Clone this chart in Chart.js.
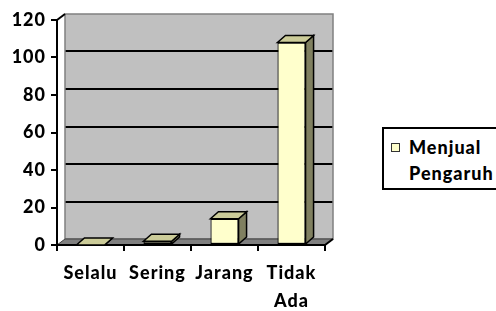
<!DOCTYPE html>
<html><head><meta charset="utf-8">
<script src="https://cdn.jsdelivr.net/npm/chart.js@4/dist/chart.umd.min.js"></script>
<style>
html,body{margin:0;padding:0;background:#fff;overflow:hidden}
#wrap{position:relative;width:496px;height:311px}
#legend{position:absolute;left:382px;top:127px;width:130px;height:59px;border:2px solid #000;background:#fff;font-family:Lato;font-weight:900;font-size:18px;letter-spacing:1px;color:#000}
#legend .mk{position:absolute;left:7px;top:14px;width:7px;height:7px;border:1px solid #333;background:#ffffcc}
#legend .ln{position:absolute;left:25px;height:22px;line-height:22px;white-space:nowrap}
</style></head>
<body>
<div id="wrap">
<canvas id="c" width="496" height="311"></canvas>
<div id="legend"></div>
</div>
<script>
const categories = ['Selalu', 'Sering', 'Jarang', ['Tidak', 'Ada']];
const seriesLabel = ['Menjual', 'Pengaruh'];
const values = [0, 2, 14, 108];
const yTicks = [0, 20, 40, 60, 80, 100, 120];

const DX = 8, DY = 6, BDX = 8, BDY = 7;
const LS = '1px';

// legend
const lg = document.getElementById('legend');
const mk = document.createElement('div'); mk.className = 'mk'; lg.appendChild(mk);
seriesLabel.forEach((t, i) => {
  const s = document.createElement('div'); s.className = 'ln';
  s.style.top = (7 + i * 26) + 'px'; s.textContent = t; lg.appendChild(s);
});

function poly(ctx, pts) {
  ctx.beginPath(); ctx.moveTo(pts[0][0], pts[0][1]);
  for (let i = 1; i < pts.length; i++) ctx.lineTo(pts[i][0], pts[i][1]);
  ctx.closePath(); ctx.fill(); ctx.stroke();
}

const threeD = {
  id: 'threeD',
  beforeLayout(chart) { chart.ctx.letterSpacing = LS; },
  beforeDraw(chart) {
    const ctx = chart.ctx; ctx.letterSpacing = LS;
    const {left, right, top, bottom} = chart.chartArea;
    const ys = chart.scales.y;
    ctx.save();
    ctx.fillStyle = '#c0c0c0';
    ctx.fillRect(left + DX, top - DY, right - left, bottom - top);
    ctx.strokeStyle = '#000'; ctx.lineWidth = 2;
    yTicks.forEach(v => {
      if (v > yTicks[0] && v < yTicks[yTicks.length - 1]) {
        const y = Math.round(ys.getPixelForValue(v) - DY);
        ctx.beginPath(); ctx.moveTo(left + DX, y); ctx.lineTo(right + DX, y); ctx.stroke();
      }
    });
    ctx.strokeStyle = '#808080'; ctx.lineWidth = 1.5;
    ctx.strokeRect(left + DX, top - DY, right - left, bottom - top);
    // floor
    ctx.fillStyle = '#808080'; ctx.strokeStyle = '#404040'; ctx.lineWidth = 1;
    poly(ctx, [[left, bottom], [left + DX, bottom - DY], [right + DX, bottom - DY], [right, bottom]]);
    // diagonals
    ctx.strokeStyle = '#000'; ctx.lineWidth = 2;
    ctx.beginPath(); ctx.moveTo(left, top); ctx.lineTo(left + DX, top - DY); ctx.stroke();
    ctx.beginPath(); ctx.moveTo(right, bottom); ctx.lineTo(right + DX, bottom - DY); ctx.stroke();
    ctx.restore();
  },
  afterDatasetsDraw(chart) {
    const ctx = chart.ctx;
    const meta = chart.getDatasetMeta(0);
    ctx.save();
    ctx.lineWidth = 1.5; ctx.strokeStyle = '#000'; ctx.lineJoin = 'miter';
    meta.data.forEach(bar => {
      const {x, y, base, width} = bar.getProps(['x', 'y', 'base', 'width'], true);
      const l = x - width / 2, r = x + width / 2;
      ctx.fillStyle = '#808060';
      poly(ctx, [[r, y], [r + BDX, y - BDY], [r + BDX, base - BDY], [r, base]]);
      ctx.fillStyle = '#cccc99';
      poly(ctx, [[l, y], [l + BDX, y - BDY], [r + BDX, y - BDY], [r, y]]);
    });
    ctx.restore();
  }
};

Chart.defaults.font.family = "Lato";
Chart.defaults.font.size = 18;
Chart.defaults.font.weight = 900;
Chart.defaults.color = '#000';

new Chart(document.getElementById('c'), {
  type: 'bar',
  data: {
    labels: categories,
    datasets: [{
      label: seriesLabel.join(' '),
      data: values,
      backgroundColor: '#ffffcc',
      borderColor: '#000',
      borderWidth: 1.2,
      borderSkipped: false,
      barPercentage: 0.42,
      categoryPercentage: 1
    }]
  },
  options: {
    responsive: false,
    animation: false,
    devicePixelRatio: 1,
    layout: {padding: {top: 20, right: 171, bottom: 0, left: 0}},
    plugins: {legend: {display: false}, tooltip: {enabled: false}},
    scales: {
      x: {
        grid: {drawOnChartArea: false, drawTicks: true, tickLength: 6, color: '#000', lineWidth: 2, offset: true},
        border: {display: true, color: '#000', width: 2},
        ticks: {maxRotation: 0, minRotation: 0, autoSkip: false, padding: 8, font: {lineHeight: 1.55}},
        afterFit(s) { s.height = 66; }
      },
      y: {
        min: yTicks[0], max: yTicks[yTicks.length - 1],
        grid: {drawOnChartArea: false, drawTicks: true, tickLength: 6, color: '#000', lineWidth: 2},
        border: {display: true, color: '#000', width: 2},
        ticks: {stepSize: yTicks[1] - yTicks[0], padding: 5},
        afterFit(s) { s.width = 57; }
      }
    }
  },
  plugins: [threeD]
});
</script>
</body></html>
